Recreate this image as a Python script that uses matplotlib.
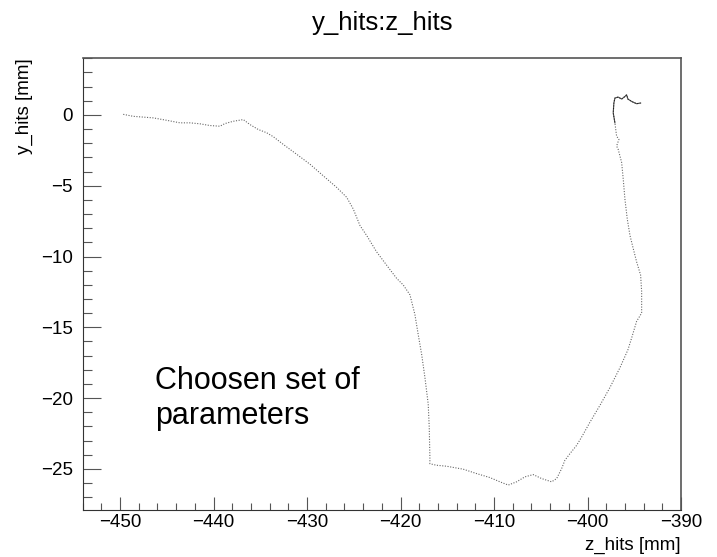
import matplotlib.pyplot as plt
from matplotlib.ticker import MultipleLocator

plt.rcParams['font.family'] = ['Liberation Sans', 'DejaVu Sans']

# hit positions along the track (z in mm, y in mm)
z_hits = [-449.66, -448.59, -446.45, -445.02, -443.59, -442.52, -441.45, -440.39,
          -439.32, -438.78, -437.89, -436.82, -436.11, -435.22, -434.32, -433.61,
          -432.55, -431.11, -429.69, -428.27, -426.83, -425.76, -425.06, -424.34,
          -423.63, -422.56, -421.49, -420.42, -419.71, -418.99, -418.46, -418.11,
          -417.74, -417.39, -417.04, -416.93, -416.86, -416.86, -416.50, -416.14,
          -415.07, -413.29, -411.86, -410.44, -409.37, -408.48, -407.58, -406.70,
          -405.81, -404.91, -403.84, -403.30, -402.77, -402.42, -401.88, -401.17,
          -400.63, -399.74, -398.67, -397.60, -396.53, -395.68, -395.28, -394.75,
          -394.21, -394.21, -394.32, -394.75, -395.11, -395.46, -395.75, -396.00,
          -396.18, -396.35, -396.72, -396.89, -396.64, -396.89, -397.07, -397.25,
          -397.18, -397.07, -396.72, -396.35, -396.00, -395.82, -395.68, -395.28,
          -394.75, -394.32]
y_hits = [0.04, -0.10, -0.21, -0.38, -0.56, -0.56, -0.63, -0.75,
          -0.80, -0.61, -0.45, -0.33, -0.68, -1.03, -1.26, -1.54,
          -2.08, -2.78, -3.48, -4.30, -5.12, -5.82, -6.64, -7.81,
          -8.51, -9.67, -10.61, -11.54, -12.01, -12.71, -14.11, -15.51,
          -16.92, -18.55, -20.42, -22.05, -24.16, -24.63, -24.69, -24.74,
          -24.81, -25.02, -25.33, -25.61, -25.91, -26.14, -25.91, -25.56,
          -25.40, -25.68, -25.91, -25.68, -24.98, -24.39, -23.92, -23.34,
          -22.75, -21.70, -20.51, -19.25, -17.85, -16.59, -15.75, -14.58,
          -13.99, -12.47, -11.31, -10.37, -9.44, -8.51, -7.34, -5.94,
          -4.53, -3.36, -2.43, -2.20, -1.73, -1.50, -0.56, 0.14,
          0.84, 1.19, 1.26, 1.12, 1.30, 1.42, 1.12, 0.95,
          0.79, 0.84]

fig = plt.figure(figsize=(7.17, 5.57), dpi=100)
ax = fig.add_axes([0.1153, 0.0844, 0.8345, 0.811])

# dotted track, solid-ish where the hits pile up at the end of the curl
ax.plot(z_hits, y_hits, color='black', lw=0.8, ls=(0, (1, 1.4)), alpha=0.6)
ax.plot(z_hits[-12:], y_hits[-12:], color='black', lw=0.8, alpha=0.7)

ax.set_xlim(-454, -390)
ax.set_ylim(-27.9, 4.0)

ax.xaxis.set_major_locator(MultipleLocator(10))
ax.xaxis.set_minor_locator(MultipleLocator(2))
ax.yaxis.set_major_locator(MultipleLocator(5))
ax.yaxis.set_minor_locator(MultipleLocator(1))
ax.tick_params(axis='both', which='both', direction='in', color='#555555',
               width=0.8, labelsize=13.5, top=False, right=False)
ax.tick_params(axis='x', which='major', length=9.5, pad=3)
ax.tick_params(axis='x', which='minor', length=5)
ax.tick_params(axis='y', which='major', length=13, pad=7)
ax.tick_params(axis='y', which='minor', length=6.5)
for side in ['left', 'bottom']:
    ax.spines[side].set_color('#333333')
for side in ['top', 'right']:
    ax.spines[side].set_color('#555555')
    ax.spines[side].set_linewidth(1.2)

ax.set_xlabel('z_hits [mm]', fontsize=13.5, loc='right')
ax.xaxis.set_label_coords(1.0, -0.06)
ax.xaxis.label.set_va('top')
ax.set_ylabel('y_hits [mm]', fontsize=13.5, loc='top')
ax.yaxis.set_label_coords(-0.083, 1.0)

fig.text(0.534, 1 - 11 / 557, 'y_hits:z_hits', fontsize=18.5, ha='center', va='top')

ax.text(-446.3, -19.34, 'Choosen set of', fontsize=22, ha='left', va='baseline')
ax.text(-446.3, -21.82, 'parameters', fontsize=22, ha='left', va='baseline')

fig.savefig('out.png', dpi=100)
